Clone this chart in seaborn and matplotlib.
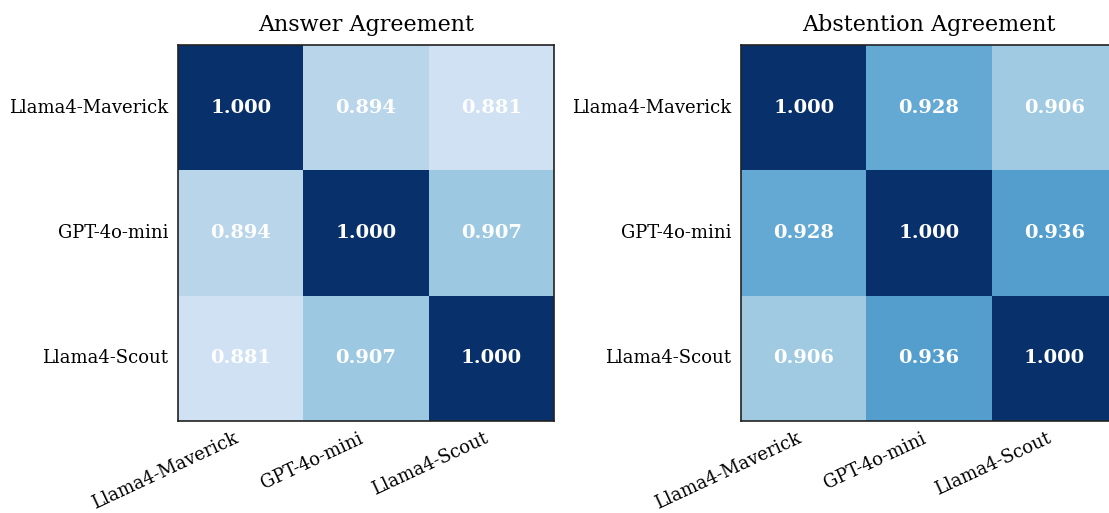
import matplotlib
matplotlib.use("Agg")
import matplotlib.pyplot as plt
import numpy as np
import pandas as pd
import seaborn as sns

sns.set_theme(style="white")
plt.rcParams["font.family"] = ["DejaVu Serif"]

models = ["Llama4-Maverick", "GPT-4o-mini", "Llama4-Scout"]
answer_agree = [
    [1.000, 0.894, 0.881],
    [0.894, 1.000, 0.907],
    [0.881, 0.907, 1.000],
]
abstain_agree = [
    [1.000, 0.928, 0.906],
    [0.928, 1.000, 0.936],
    [0.906, 0.936, 1.000],
]
titles = ["Answer Agreement", "Abstention Agreement"]

W, H = 1109, 513
fig = plt.figure(figsize=(W / 100, H / 100), dpi=100)
axes = [
    fig.add_axes([178 / W, (H - 421) / H, 376 / W, 376 / H]),
    fig.add_axes([741 / W, (H - 421) / H, 376 / W, 376 / H]),
]

for ax, vals, title in zip(axes, [answer_agree, abstain_agree], titles):
    df = pd.DataFrame(vals, index=models, columns=models)
    sns.heatmap(df, ax=ax, cmap="Blues", vmin=0.85, vmax=1.0, cbar=False,
                annot=True, fmt=".3f",
                annot_kws={"color": "white", "fontweight": "bold", "fontsize": 14})
    for t in ax.texts:
        t.set_color("white")
    ax.set_title(title, fontsize=16, pad=10, color="black")
    ax.tick_params(axis="both", length=0, labelsize=13.0, colors="black")
    ax.tick_params(axis="y", pad=7)
    ax.tick_params(axis="x", pad=6)
    ax.set_yticklabels(models, rotation=0)
    ax.set_xticklabels(models, rotation=25, ha="right")
    for s in ax.spines.values():
        s.set_visible(True)
        s.set_color("#222222")
        s.set_linewidth(1.2)

fig.savefig("out.png", dpi=100)
